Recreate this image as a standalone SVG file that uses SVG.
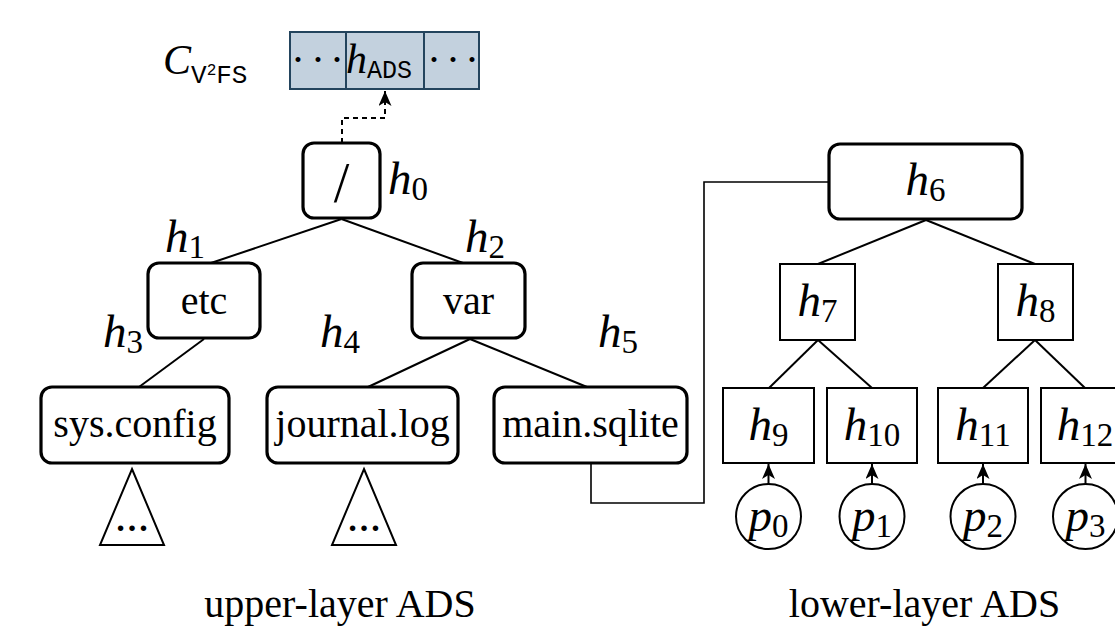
<svg xmlns="http://www.w3.org/2000/svg" width="1115" height="630" viewBox="0 0 1115 630">
  <style>
    .txt { font-family: "Liberation Serif", "Times New Roman", serif; font-size: 40px; fill: #000; }
    .math { font-family: "Liberation Serif", "Times New Roman", serif; font-style: italic; font-size: 47px; fill: #000; }
    .sub { font-style: normal; font-size: 33px; }
    .tt { font-family: "Liberation Mono", "Courier New", monospace; font-style: normal; }
    .fsbox { fill: #fff; stroke: #000; stroke-width: 3.2; }
    .hbox { fill: #fff; stroke: #000; stroke-width: 2; }
    .leaf { fill: #fff; stroke: #000; stroke-width: 2; }
    .edge { fill: none; stroke: #000; stroke-width: 2; }
    .cell { fill: #c3d1de; stroke: #23445d; stroke-width: 2; }
  </style>
  <defs>
    <marker id="arrow" viewBox="0 0 15 13" refX="15" refY="6.5" markerWidth="15" markerHeight="13" markerUnits="userSpaceOnUse" orient="auto">
      <path d="M0,0 L15,6.5 L0,13 L4,6.5 z" fill="#000"/>
    </marker>
  </defs>

  <rect width="1115" height="630" fill="#fff"/>

  <!-- commitment array of the V2FS -->
  <g id="commitment">
    <text class="math" x="163" y="74" style="font-size:42px">C<tspan class="tt" style="font-size:26px" dy="9">V</tspan><tspan class="tt" style="font-size:16px" dy="-8">2</tspan><tspan class="tt" style="font-size:26px" dy="8">FS</tspan></text>
    <rect class="cell" x="290" y="32" width="56" height="57"/>
    <rect class="cell" x="346" y="32" width="78" height="57"/>
    <rect class="cell" x="424" y="32" width="55" height="57"/>
    <text class="txt" x="291 311 330" y="74" style="font-size:42px">···</text>
    <text class="math" x="346" y="73" style="font-size:42px">h<tspan class="tt" style="font-size:25px" dy="5">ADS</tspan></text>
    <text class="txt" x="427 446 465" y="74" style="font-size:42px">···</text>
  </g>

  <!-- connectors -->
  <g id="connectors">
    <!-- upper-layer directory tree -->
    <line class="edge" x1="341.5" y1="219" x2="211" y2="263"/>
    <line class="edge" x1="341.5" y1="219" x2="463" y2="263"/>
    <line class="edge" x1="204" y1="339" x2="139" y2="387"/>
    <line class="edge" x1="470" y1="339" x2="368" y2="387"/>
    <line class="edge" x1="470" y1="339" x2="587" y2="387"/>
    <!-- root hash to commitment -->
    <polyline class="edge" points="342,143 342,118 385,118 385,91" stroke-dasharray="5 4" marker-end="url(#arrow)"/>
    <!-- file node to lower-layer root -->
    <polyline class="edge" points="829,182 704,182 704,503 591,503 591,463" style="stroke-width:1.6"/>
    <!-- lower-layer Merkle tree -->
    <line class="edge" x1="926" y1="220" x2="818" y2="264"/>
    <line class="edge" x1="926" y1="220" x2="1035" y2="264"/>
    <line class="edge" x1="818" y1="340" x2="769" y2="388"/>
    <line class="edge" x1="818" y1="340" x2="872" y2="388"/>
    <line class="edge" x1="1035" y1="340" x2="983" y2="388"/>
    <line class="edge" x1="1035" y1="340" x2="1085" y2="388"/>
    <!-- pages to leaf hashes -->
    <line class="edge" x1="768.5" y1="484" x2="768.5" y2="464" marker-end="url(#arrow)"/>
    <line class="edge" x1="872" y1="484" x2="872" y2="464" marker-end="url(#arrow)"/>
    <line class="edge" x1="983" y1="484" x2="983" y2="464" marker-end="url(#arrow)"/>
    <line class="edge" x1="1085.5" y1="484" x2="1085.5" y2="464" marker-end="url(#arrow)"/>
  </g>

  <!-- upper-layer ADS -->
  <g id="root">
    <rect class="fsbox" x="303" y="143" width="77" height="75" rx="11"/>
    <text class="txt" x="341.5" y="202" text-anchor="middle" style="font-size:56px">/</text>
    <text class="math" x="388" y="194">h<tspan class="sub" dy="6">0</tspan></text>
  </g>
  <g id="etc">
    <rect class="fsbox" x="148" y="263" width="112" height="75" rx="11"/>
    <text class="txt" x="204" y="314" text-anchor="middle">etc</text>
    <text class="math" x="165" y="252">h<tspan class="sub" dy="6">1</tspan></text>
  </g>
  <g id="var">
    <rect class="fsbox" x="412" y="263" width="113" height="75" rx="11"/>
    <text class="txt" x="468.5" y="314" text-anchor="middle">var</text>
    <text class="math" x="465" y="252">h<tspan class="sub" dy="6">2</tspan></text>
  </g>
  <g id="sys-config">
    <rect class="fsbox" x="41" y="387" width="188" height="76" rx="11"/>
    <text class="txt" x="135" y="437" text-anchor="middle">sys.config</text>
    <text class="math" x="103" y="347">h<tspan class="sub" dy="6">3</tspan></text>
    <polygon class="leaf" points="132,469 164,545 100,545"/>
    <text class="txt" x="132" y="531" text-anchor="middle" style="font-size:34px;font-weight:bold">…</text>
  </g>
  <g id="journal-log">
    <rect class="fsbox" x="267" y="387" width="191" height="76" rx="11"/>
    <text class="txt" x="362.5" y="437" text-anchor="middle">journal.log</text>
    <text class="math" x="320" y="347">h<tspan class="sub" dy="6">4</tspan></text>
    <polygon class="leaf" points="364,469 396,545 332,545"/>
    <text class="txt" x="364" y="531" text-anchor="middle" style="font-size:34px;font-weight:bold">…</text>
  </g>
  <g id="main-sqlite">
    <rect class="fsbox" x="494" y="387" width="193" height="76" rx="11"/>
    <text class="txt" x="590.5" y="437" text-anchor="middle">main.sqlite</text>
    <text class="math" x="598" y="347">h<tspan class="sub" dy="6">5</tspan></text>
  </g>
  <text class="txt" x="340" y="617" text-anchor="middle">upper-layer ADS</text>

  <!-- lower-layer ADS -->
  <g id="h6">
    <rect class="fsbox" x="829" y="144" width="193" height="75" rx="11"/>
    <text class="math" x="925.5" y="195" text-anchor="middle">h<tspan class="sub" dy="6">6</tspan></text>
  </g>
  <g id="h7">
    <rect class="hbox" x="780" y="264" width="75" height="76"/>
    <text class="math" x="817.5" y="316" text-anchor="middle">h<tspan class="sub" dy="6">7</tspan></text>
  </g>
  <g id="h8">
    <rect class="hbox" x="998" y="264" width="75" height="76"/>
    <text class="math" x="1035.5" y="316" text-anchor="middle">h<tspan class="sub" dy="6">8</tspan></text>
  </g>
  <g id="h9">
    <rect class="hbox" x="723" y="388" width="91" height="75"/>
    <text class="math" x="768.5" y="440" text-anchor="middle">h<tspan class="sub" dy="6">9</tspan></text>
  </g>
  <g id="h10">
    <rect class="hbox" x="827" y="388" width="90" height="75"/>
    <text class="math" x="872" y="440" text-anchor="middle">h<tspan class="sub" dy="6">10</tspan></text>
  </g>
  <g id="h11">
    <rect class="hbox" x="938" y="388" width="90" height="75"/>
    <text class="math" x="983" y="440" text-anchor="middle">h<tspan class="sub" dy="6">11</tspan></text>
  </g>
  <g id="h12">
    <rect class="hbox" x="1041" y="388" width="90" height="75"/>
    <text class="math" x="1085" y="440" text-anchor="middle">h<tspan class="sub" dy="6">12</tspan></text>
  </g>
  <g id="p0">
    <circle class="hbox" cx="768.5" cy="516.5" r="32.5"/>
    <text class="math" x="768.5" y="531" text-anchor="middle">p<tspan class="sub" dy="6">0</tspan></text>
  </g>
  <g id="p1">
    <circle class="hbox" cx="872" cy="516.5" r="32.5"/>
    <text class="math" x="872" y="531" text-anchor="middle">p<tspan class="sub" dy="6">1</tspan></text>
  </g>
  <g id="p2">
    <circle class="hbox" cx="983" cy="516.5" r="32.5"/>
    <text class="math" x="983" y="531" text-anchor="middle">p<tspan class="sub" dy="6">2</tspan></text>
  </g>
  <g id="p3">
    <circle class="hbox" cx="1085.5" cy="516.5" r="32.5"/>
    <text class="math" x="1085.5" y="531" text-anchor="middle">p<tspan class="sub" dy="6">3</tspan></text>
  </g>
  <text class="txt" x="924.5" y="617" text-anchor="middle">lower-layer ADS</text>
</svg>
